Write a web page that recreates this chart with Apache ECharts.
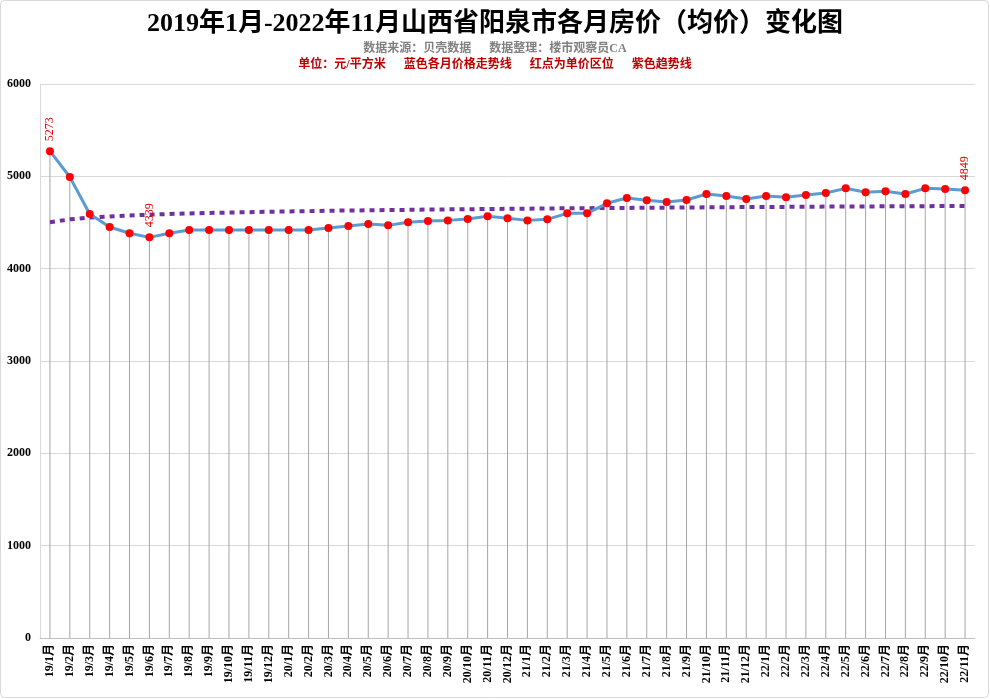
<!DOCTYPE html>
<html>
<head>
<meta charset="utf-8">
<script src="https://cdn.jsdelivr.net/npm/echarts@6/dist/echarts.min.js"></script>
<style>html,body{margin:0;padding:0;background:#fff;}#c{width:990px;height:699px;}</style>
</head>
<body>
<div id="c"></div>
<script>
var categories = ['19/1月','19/2月','19/3月','19/4月','19/5月','19/6月','19/7月','19/8月','19/9月','19/10月','19/11月','19/12月',
  '20/1月','20/2月','20/3月','20/4月','20/5月','20/6月','20/7月','20/8月','20/9月','20/10月','20/11月','20/12月',
  '21/1月','21/2月','21/3月','21/4月','21/5月','21/6月','21/7月','21/8月','21/9月','21/10月','21/11月','21/12月',
  '22/1月','22/2月','22/3月','22/4月','22/5月','22/6月','22/7月','22/8月','22/9月','22/10月','22/11月'];
var prices = [5273,4993,4592,4451,4383,4339,4383,4419,4419,4419,4419,4419,
  4419,4419,4440,4462,4484,4469,4502,4516,4523,4538,4567,4545,
  4523,4534,4599,4599,4708,4765,4742,4722,4744,4809,4787,4755,
  4787,4773,4798,4819,4870,4827,4838,4809,4870,4863,4849];
var trend = [4502,4534,4553,4566,4576,4584,4592,4598,4603,4608,4612,4616,
  4620,4623,4627,4630,4632,4635,4637,4640,4642,4644,4646,4648,
  4650,4652,4654,4655,4657,4658,4660,4661,4663,4664,4666,4667,
  4668,4669,4671,4672,4673,4674,4675,4676,4677,4678,4679];
var labeledIdx = [0, 5, 46];
var yTicks = {min: 0, max: 6000, interval: 1000};

var serif = '"Liberation Serif","Times New Roman","Noto Sans CJK SC",serif';
var chart = echarts.init(document.getElementById('c'), null, {renderer: 'canvas'});
var lineData = prices.map(function (v, i) {
  if (labeledIdx.indexOf(i) >= 0) {
    return {value: v, label: {show: true}};
  }
  return v;
});
chart.setOption({
  animation: false,
  backgroundColor: '#fff',
  title: [
    {text: '2019年1月-2022年11月山西省阳泉市各月房价（均价）变化图', left: 'center', top: 6,
      textStyle: {fontFamily: serif, fontSize: 26, fontWeight: 'bold', color: '#000'}},
    {text: '数据来源：贝壳数据      数据整理：楼市观察员CA', left: 'center', top: 38,
      textStyle: {fontFamily: serif, fontSize: 12, fontWeight: 'bold', color: '#808080'}},
    {text: '单位：元/平方米      蓝色各月价格走势线      红点为单价区位      紫色趋势线', left: 'center', top: 54,
      textStyle: {fontFamily: serif, fontSize: 12, fontWeight: 'bold', color: '#c00000'}}
  ],
  graphic: [{type: 'rect', shape: {x: 0.5, y: 0.5, width: 988, height: 697, r: 4},
    style: {fill: 'none', stroke: '#d9d9d9', lineWidth: 1}, silent: true}],
  grid: {left: 40, right: 15, top: 84, bottom: 61, containLabel: false},
  xAxis: {
    type: 'category', data: categories, boundaryGap: true,
    axisLine: {show: true, lineStyle: {color: '#bfbfbf'}},
    axisTick: {show: false},
    axisLabel: {rotate: 90, interval: 0, margin: 6, fontFamily: serif, fontSize: 12, fontWeight: 'bold', color: '#000'},
    splitLine: {show: false}
  },
  yAxis: {
    type: 'value', min: yTicks.min, max: yTicks.max, interval: yTicks.interval,
    axisLine: {show: true, lineStyle: {color: '#d9d9d9'}},
    axisTick: {show: false},
    axisLabel: {margin: 9, fontFamily: serif, fontSize: 12, fontWeight: 'bold', color: '#000',
      formatter: function (v) { return String(v); }},
    splitLine: {show: true, lineStyle: {color: '#d9d9d9', width: 1}}
  },
  series: [
    {type: 'bar', data: prices, barWidth: 1, itemStyle: {color: '#a6a6a6'}, z: 1, silent: true},
    {type: 'line', data: trend, symbol: 'none', z: 2,
      lineStyle: {color: '#7030a0', width: 4, type: [5, 5], cap: 'butt'}},
    {type: 'line', data: lineData, z: 3, symbol: 'circle', symbolSize: 8,
      lineStyle: {color: '#5b9bd5', width: 3},
      itemStyle: {color: '#ff0000', borderWidth: 0},
      label: {show: false, position: 'top', rotate: 90, align: 'left', verticalAlign: 'middle', distance: 6,
        fontFamily: serif, fontSize: 12, color: '#e00000'}}
  ]
});
</script>
</body>
</html>
